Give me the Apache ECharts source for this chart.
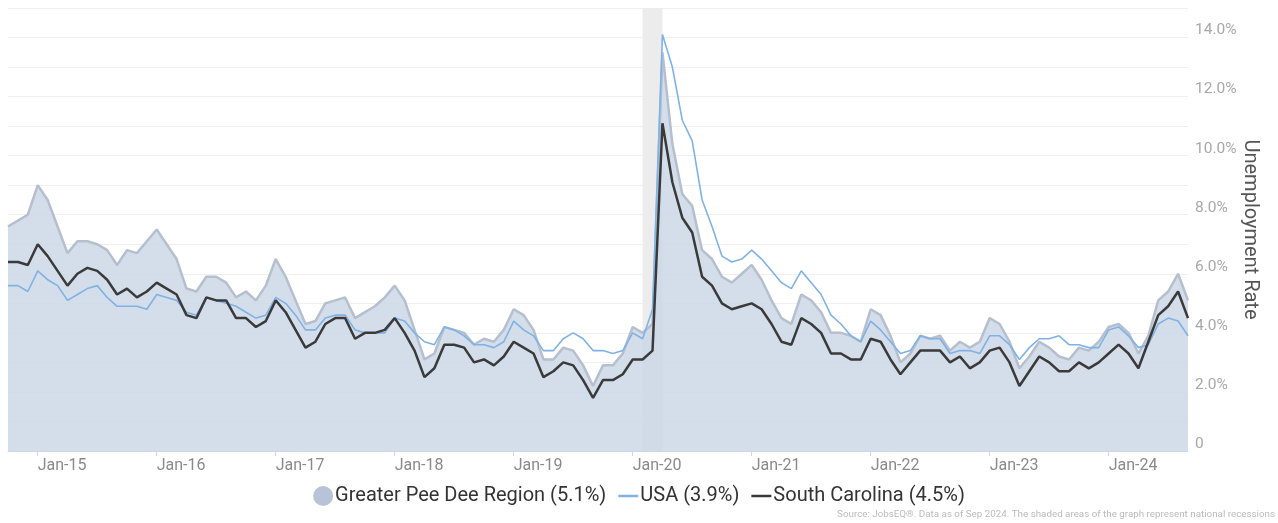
<!DOCTYPE html>
<html>
<head>
<meta charset="utf-8">
<script src="https://cdn.jsdelivr.net/npm/echarts@6/dist/echarts.min.js"></script>
<style>
  html, body { margin: 0; padding: 0; background: #fff; }
  #chart { width: 1278px; height: 523px; }
</style>
</head>
<body>
<div id="chart"></div>
<script>
// months Oct-14 .. Sep-24
var months = [
  'Oct-14','Nov-14','Dec-14',
  'Jan-15','Feb-15','Mar-15','Apr-15','May-15','Jun-15','Jul-15','Aug-15','Sep-15','Oct-15','Nov-15','Dec-15',
  'Jan-16','Feb-16','Mar-16','Apr-16','May-16','Jun-16','Jul-16','Aug-16','Sep-16','Oct-16','Nov-16','Dec-16',
  'Jan-17','Feb-17','Mar-17','Apr-17','May-17','Jun-17','Jul-17','Aug-17','Sep-17','Oct-17','Nov-17','Dec-17',
  'Jan-18','Feb-18','Mar-18','Apr-18','May-18','Jun-18','Jul-18','Aug-18','Sep-18','Oct-18','Nov-18','Dec-18',
  'Jan-19','Feb-19','Mar-19','Apr-19','May-19','Jun-19','Jul-19','Aug-19','Sep-19','Oct-19','Nov-19','Dec-19',
  'Jan-20','Feb-20','Mar-20','Apr-20','May-20','Jun-20','Jul-20','Aug-20','Sep-20','Oct-20','Nov-20','Dec-20',
  'Jan-21','Feb-21','Mar-21','Apr-21','May-21','Jun-21','Jul-21','Aug-21','Sep-21','Oct-21','Nov-21','Dec-21',
  'Jan-22','Feb-22','Mar-22','Apr-22','May-22','Jun-22','Jul-22','Aug-22','Sep-22','Oct-22','Nov-22','Dec-22',
  'Jan-23','Feb-23','Mar-23','Apr-23','May-23','Jun-23','Jul-23','Aug-23','Sep-23','Oct-23','Nov-23','Dec-23',
  'Jan-24','Feb-24','Mar-24','Apr-24','May-24','Jun-24','Jul-24','Aug-24','Sep-24'
]

var peeDee = [
  7.6, 7.8, 8.0,
  9.0, 8.5, 7.6, 6.7, 7.1, 7.1, 7.0, 6.8, 6.3, 6.8, 6.7, 7.1,
  7.5, 7.0, 6.5, 5.5, 5.4, 5.9, 5.9, 5.7, 5.2, 5.4, 5.1, 5.6,
  6.5, 5.9, 5.1, 4.3, 4.4, 5.0, 5.1, 5.2, 4.5, 4.7, 4.9, 5.2,
  5.6, 5.1, 4.1, 3.1, 3.3, 4.2, 4.1, 4.0, 3.6, 3.8, 3.7, 4.1,
  4.8, 4.6, 4.1, 3.1, 3.1, 3.5, 3.4, 2.9, 2.2, 2.9, 2.9, 3.3,
  4.2, 4.0, 4.3, 13.5, 10.4, 8.7, 8.3, 6.8, 6.5, 5.9, 5.7, 6.0,
  6.3, 5.8, 5.1, 4.5, 4.3, 5.3, 5.1, 4.7, 4.0, 4.0, 3.9, 3.7,
  4.8, 4.6, 3.9, 3.0, 3.3, 3.9, 3.8, 3.9, 3.4, 3.7, 3.5, 3.7,
  4.5, 4.3, 3.7, 2.8, 3.2, 3.7, 3.5, 3.2, 3.1, 3.5, 3.4, 3.7,
  4.2, 4.3, 4.0, 3.3, 3.9, 5.1, 5.4, 6.0, 5.1
]

var usa = [
  5.6, 5.6, 5.4,
  6.1, 5.8, 5.6, 5.1, 5.3, 5.5, 5.6, 5.2, 4.9, 4.9, 4.9, 4.8,
  5.3, 5.2, 5.1, 4.7, 4.6, 5.2, 5.1, 5.0, 4.9, 4.7, 4.5, 4.6,
  5.2, 5.0, 4.6, 4.1, 4.1, 4.5, 4.6, 4.6, 4.1, 4.0, 4.0, 4.0,
  4.5, 4.4, 4.0, 3.7, 3.6, 4.2, 4.1, 3.9, 3.6, 3.6, 3.5, 3.7,
  4.4, 4.1, 3.9, 3.4, 3.4, 3.8, 4.0, 3.8, 3.4, 3.4, 3.3, 3.4,
  4.0, 3.8, 4.8, 14.1, 13.0, 11.2, 10.5, 8.5, 7.6, 6.6, 6.4, 6.5,
  6.8, 6.5, 6.1, 5.7, 5.5, 6.1, 5.7, 5.3, 4.6, 4.3, 3.9, 3.7,
  4.4, 4.1, 3.7, 3.3, 3.4, 3.9, 3.8, 3.8, 3.3, 3.4, 3.4, 3.3,
  3.9, 3.9, 3.6, 3.1, 3.5, 3.8, 3.8, 3.9, 3.6, 3.6, 3.5, 3.5,
  4.1, 4.2, 3.9, 3.5, 3.6, 4.3, 4.5, 4.4, 3.9
]

var southCarolina = [
  6.4, 6.4, 6.3,
  7.0, 6.6, 6.1, 5.6, 6.0, 6.2, 6.1, 5.8, 5.3, 5.5, 5.2, 5.4,
  5.7, 5.5, 5.3, 4.6, 4.5, 5.2, 5.1, 5.1, 4.5, 4.5, 4.2, 4.4,
  5.1, 4.7, 4.1, 3.5, 3.7, 4.3, 4.5, 4.5, 3.8, 4.0, 4.0, 4.1,
  4.5, 4.0, 3.4, 2.5, 2.8, 3.6, 3.6, 3.5, 3.0, 3.1, 2.9, 3.2,
  3.7, 3.5, 3.3, 2.5, 2.7, 3.0, 2.9, 2.4, 1.8, 2.4, 2.4, 2.6,
  3.1, 3.1, 3.4, 11.1, 9.1, 7.9, 7.4, 5.9, 5.6, 5.0, 4.8, 4.9,
  5.0, 4.8, 4.3, 3.7, 3.6, 4.5, 4.3, 4.0, 3.3, 3.3, 3.1, 3.1,
  3.8, 3.7, 3.1, 2.6, 3.0, 3.4, 3.4, 3.4, 3.0, 3.2, 2.8, 3.0,
  3.4, 3.5, 3.0, 2.2, 2.7, 3.2, 3.0, 2.7, 2.7, 3.0, 2.8, 3.0,
  3.3, 3.6, 3.3, 2.8, 3.7, 4.6, 4.9, 5.4, 4.5
]

var recession = ['Feb-20', 'Apr-20']

var seriesNames = ['Greater Pee Dee Region (5.1%)', 'USA (3.9%)', 'South Carolina (4.5%)']

var font = 'Roboto, "Liberation Sans", sans-serif'
var isJan = function (idx, value) { return value.indexOf('Jan') === 0 }

var myChart = echarts.init(document.getElementById('chart'))
myChart.setOption({
  animation: false,
  grid: {
    left: 8,
    right: 90,
    top: 8,
    bottom: 72
  },
  legend: {
    left: 'center',
    top: 481,
    itemGap: 12,
    itemWidth: 20,
    itemHeight: 20,
    textStyle: {
      color: '#333',
      fontSize: 20,
      fontFamily: font,
      padding: [0, 0, 0, -3]
    },
    data: [
      { name: seriesNames[0], icon: 'circle', itemStyle: { color: '#b6c3d8' } },
      { name: seriesNames[1], icon: 'path://M0,0H16V2H0Z', itemStyle: { color: '#7fb2e5' } },
      { name: seriesNames[2], icon: 'path://M0,0H16V2H0Z', itemStyle: { color: '#3a3a3a' } }
    ]
  },
  graphic: [{
    type: 'text',
    right: 3,
    top: 510,
    style: {
      text: 'Source: JobsEQ®. Data as of Sep 2024. The shaded areas of the graph represent national recessions',
      fill: '#bbb',
      font: '9.8px ' + font
    }
  }],
  xAxis: {
    type: 'category',
    boundaryGap: false,
    data: months,
    axisLine: {
      lineStyle: { color: '#ccd6eb', width: 1 }
    },
    axisTick: {
      show: true,
      interval: isJan,
      length: 5,
      lineStyle: { color: '#ccd6eb' }
    },
    axisLabel: {
      interval: isJan,
      align: 'left',
      margin: 7,
      color: '#8a8a8a',
      fontSize: 16,
      fontFamily: font
    },
    splitLine: { show: false }
  },
  yAxis: {
    type: 'value',
    position: 'right',
    min: 0,
    max: 15,
    interval: 1,
    name: 'Unemployment Rate',
    nameLocation: 'middle',
    nameRotate: -90,
    nameGap: 52,
    nameMoveOverlap: false,
    nameTextStyle: {
      color: '#555',
      fontSize: 20,
      fontFamily: font
    },
    axisLine: { show: false },
    axisTick: { show: false },
    axisLabel: {
      margin: 7,
      color: '#a8a8a8',
      fontSize: 15.5,
      fontFamily: font,
      verticalAlign: 'bottom',
      padding: [0, 0, -1, 0],
      formatter: function (v) {
        if (v === 0) return '0'
        return v % 2 === 0 ? v.toFixed(1) + '%' : ''
      }
    },
    splitLine: {
      lineStyle: { color: '#efefef' }
    }
  },
  series: [
    {
      name: 'recession',
      type: 'line',
      data: [],
      z: 1,
      markArea: {
        silent: true,
        itemStyle: { color: '#ececec' },
        data: [[{ xAxis: recession[0] }, { xAxis: recession[1] }]]
      }
    },
    {
      name: seriesNames[0],
      type: 'line',
      z: 2,
      data: peeDee,
      showSymbol: false,
      lineStyle: { color: '#b6bfcd', width: 2.5 },
      itemStyle: { color: '#b6c3d8' },
      areaStyle: { color: 'rgb(205,215,230)', opacity: 0.85 }
    },
    {
      name: seriesNames[1],
      type: 'line',
      z: 3,
      data: usa,
      showSymbol: false,
      lineStyle: { color: '#7fb2e5', width: 1.6 },
      itemStyle: { color: '#7fb2e5' }
    },
    {
      name: seriesNames[2],
      type: 'line',
      z: 4,
      data: southCarolina,
      showSymbol: false,
      lineStyle: { color: '#3a3a3a', width: 2.5 },
      itemStyle: { color: '#3a3a3a' }
    }
  ]
})
</script>
</body>
</html>
